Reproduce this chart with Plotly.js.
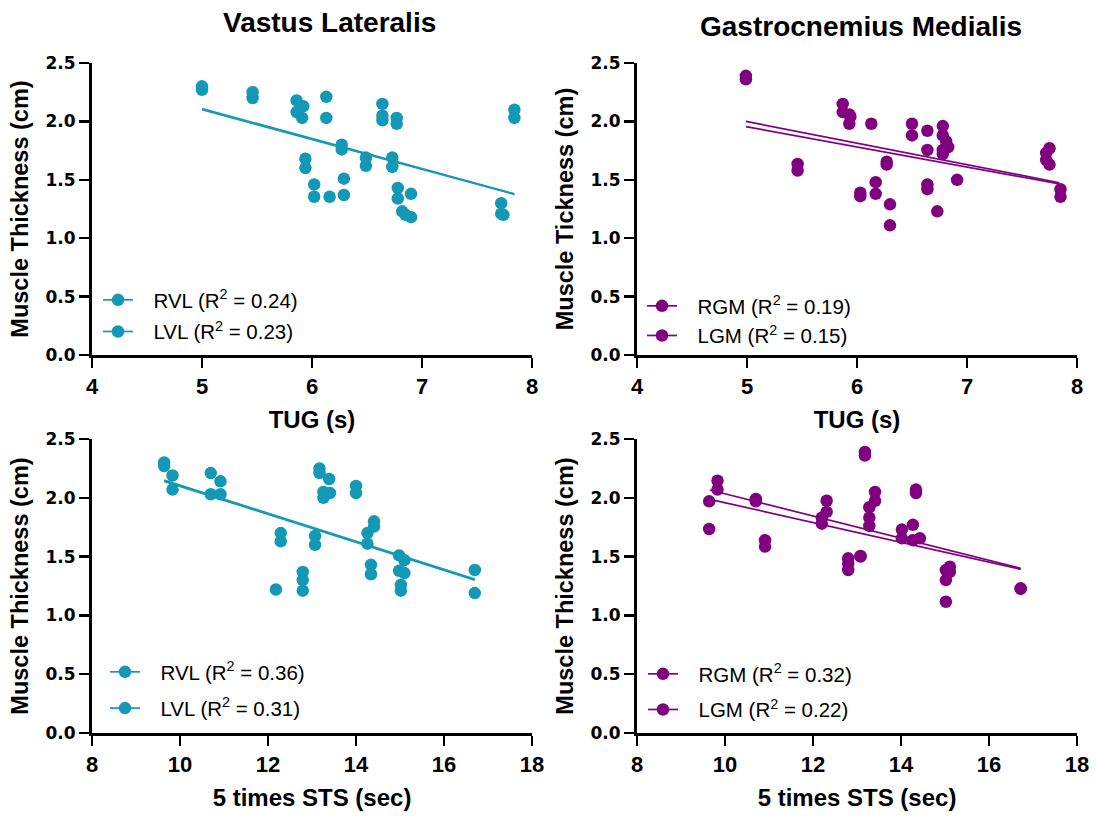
<!DOCTYPE html>
<html>
<head>
<meta charset="utf-8">
<script src="https://cdn.plot.ly/plotly-3.0.1.min.js"></script>
<style>html,body{margin:0;padding:0;background:#fff;}#chart{width:1096px;height:816px;}</style>
</head>
<body>
<div id="chart"></div>
<script>
// ---------- DATA ----------
// Panel A: Vastus Lateralis vs TUG (s)
const rvlTugX = [5.00,5.46,5.86,5.92,6.13,6.64,6.77,7.84,6.27,5.94,6.49,6.73,6.02,6.29,6.78,6.90,6.82,7.72,6.64,6.16];
const rvlTugY = [2.30,2.25,2.18,2.13,2.21,2.15,2.03,2.10,1.80,1.68,1.69,1.69,1.46,1.51,1.43,1.38,1.23,1.30,2.01,1.355];
const lvlTugX = [5.00,5.46,5.86,5.91,6.13,6.64,6.77,7.84,6.27,5.94,6.49,6.73,6.02,6.29,6.78,6.90,6.85,7.72,7.74];
const lvlTugY = [2.27,2.20,2.08,2.03,2.03,2.05,1.98,2.03,1.76,1.60,1.62,1.61,1.355,1.37,1.34,1.18,1.20,1.21,1.20];
const rvlTugFitX = [5.00,7.84], rvlTugFitY = [2.11,1.38];
const lvlTugFitX = [5.00,7.84], lvlTugFitY = [2.10,1.375];

// Panel B: Gastrocnemius Medialis vs TUG (s)
const rgmTugX = [4.99,5.46,5.87,5.93,6.13,6.27,6.03,6.17,6.30,6.50,6.64,6.64,6.78,6.81,6.78,6.73,7.75,7.72,7.85];
const rgmTugY = [2.39,1.635,2.15,2.06,1.98,1.655,1.39,1.48,1.29,1.98,1.92,1.46,1.96,1.83,1.755,1.23,1.77,1.67,1.42];
const lgmTugX = [4.99,5.46,5.87,5.94,5.93,6.27,6.03,6.17,6.30,6.50,6.64,6.64,6.78,6.83,6.78,6.91,7.72,7.75,7.85];
const lgmTugY = [2.36,1.58,2.08,2.04,1.98,1.63,1.36,1.38,1.11,1.88,1.755,1.42,1.88,1.78,1.72,1.50,1.73,1.63,1.355];
const rgmTugFitX = [4.99,7.84], rgmTugFitY = [2.00,1.475];
const lgmTugFitX = [4.99,7.84], lgmTugFitY = [1.955,1.465];

// Panel C: Vastus Lateralis vs 5 times STS (sec)
const rvlStsX = [9.64,9.83,10.70,10.92,13.17,13.39,13.26,14.00,12.29,13.07,14.41,14.26,14.34,14.98,14.98,15.02,12.18,12.79,16.70];
const rvlStsY = [2.30,2.19,2.21,2.14,2.25,2.16,2.05,2.10,1.70,1.675,1.80,1.70,1.43,1.51,1.38,1.26,1.22,1.37,1.386];
const lvlStsX = [9.64,9.83,10.70,10.92,13.17,13.41,13.26,14.00,12.29,13.07,14.41,14.26,14.34,15.10,15.10,15.02,12.79,12.79,16.70];
const lvlStsY = [2.27,2.07,2.03,2.03,2.21,2.04,2.00,2.04,1.63,1.60,1.755,1.61,1.35,1.47,1.36,1.21,1.30,1.21,1.19];
const rvlStsFitX = [9.64,16.70], rvlStsFitY = [2.15,1.31];
const lvlStsFitX = [9.64,16.70], lvlStsFitY = [2.14,1.30];

// Panel D: Gastrocnemius Medialis vs 5 times STS (sec)
const rgmStsX = [9.83,9.64,10.70,10.91,12.31,12.20,13.18,13.41,13.28,13.28,12.80,13.08,14.34,14.27,14.02,14.27,15.02,15.11,16.72];
const rgmStsY = [2.145,1.97,1.99,1.64,1.975,1.83,2.39,2.05,1.92,1.76,1.485,1.505,2.07,1.77,1.73,1.64,1.386,1.414,1.23];
const lgmStsX = [9.83,9.64,10.70,10.91,12.31,12.20,13.18,13.41,13.28,12.80,12.80,13.08,14.34,14.02,14.43,15.02,15.11,15.02,16.72];
const lgmStsY = [2.07,1.735,1.97,1.585,1.88,1.78,2.36,1.975,1.83,1.386,1.44,1.50,2.04,1.655,1.655,1.30,1.37,1.116,1.225];
const rgmStsFitX = [9.66,16.72], rgmStsFitY = [2.066,1.40];
const lgmStsFitX = [9.66,16.72], lgmStsFitY = [1.987,1.392];

// Labels
const panelTitles = ['Vastus Lateralis', 'Gastrocnemius Medialis'];
const xTitles = ['TUG (s)', 'TUG (s)', '5 times STS (sec)', '5 times STS (sec)'];
const yTitles = ['Muscle Thickness (cm)', 'Muscle Tickness (cm)', 'Muscle Thickness (cm)', 'Muscle Thickness (cm)'];
const legendNames = [
  ['RVL (R<sup>2</sup> = 0.24)', 'LVL (R<sup>2</sup> = 0.23)'],
  ['RGM (R<sup>2</sup> = 0.19)', 'LGM (R<sup>2</sup> = 0.15)'],
  ['RVL (R<sup>2</sup> = 0.36)', 'LVL (R<sup>2</sup> = 0.31)'],
  ['RGM (R<sup>2</sup> = 0.32)', 'LGM (R<sup>2</sup> = 0.22)']
];
const tugTicks = [4,5,6,7,8];
const stsTicks = [8,10,12,14,16,18];
const yTicks = [0,0.5,1.0,1.5,2.0,2.5];
const yTickText = ['0.0','0.5','1.0','1.5','2.0','2.5'];

// ---------- STYLE ----------
const FONT = 'Liberation Sans, Arial, Helvetica, sans-serif';
const TEAL = '#1399B6';
const PURPLE = '#800080';
const MS = 12.5;
const LEGPAD = '\u00A0\u00A0\u2009';

const panels = [
  {xa:'x',  ya:'y',  leg:'legend',  color:TEAL,
   series:[[rvlTugX,rvlTugY,rvlTugFitX,rvlTugFitY],[lvlTugX,lvlTugY,lvlTugFitX,lvlTugFitY]]},
  {xa:'x2', ya:'y2', leg:'legend2', color:PURPLE,
   series:[[rgmTugX,rgmTugY,rgmTugFitX,rgmTugFitY],[lgmTugX,lgmTugY,lgmTugFitX,lgmTugFitY]]},
  {xa:'x3', ya:'y3', leg:'legend3', color:TEAL,
   series:[[rvlStsX,rvlStsY,rvlStsFitX,rvlStsFitY],[lvlStsX,lvlStsY,lvlStsFitX,lvlStsFitY]]},
  {xa:'x4', ya:'y4', leg:'legend4', color:PURPLE,
   series:[[rgmStsX,rgmStsY,rgmStsFitX,rgmStsFitY],[lgmStsX,lgmStsY,lgmStsFitX,lgmStsFitY]]}
];

const traces = [];
panels.forEach((p, pi) => {
  p.series.forEach((s, si) => {
    traces.push({type:'scatter', mode:'lines', x:s[2], y:s[3], xaxis:p.xa, yaxis:p.ya,
      line:{color:p.color, width:1.7}, showlegend:false, hoverinfo:'skip'});
  });
  p.series.forEach((s, si) => {
    traces.push({type:'scatter', mode:'markers', x:s[0], y:s[1], xaxis:p.xa, yaxis:p.ya,
      marker:{color:p.color, size:MS, line:{width:0}}, showlegend:false});
  });
  p.series.forEach((s, si) => {
    // legend entry (line + marker symbol)
    traces.push({type:'scatter', mode:'lines+markers', x:[null], y:[null], xaxis:p.xa, yaxis:p.ya,
      name:LEGPAD + legendNames[pi][si], legend:p.leg, legendgroup:'g'+pi+'_'+si,
      line:{color:p.color, width:1.7}, marker:{color:p.color, size:MS}, showlegend:true});
  });
});

// geometry
const W = 1096, H = 816;
const mL = 92, mR = 19, mT = 63, mB = 83;
const pw = W - mL - mR, ph = H - mT - mB;
const px = v => (v - mL) / pw;
const py = v => (H - mB - v) / ph;
const xDomL = [0, px(532)], xDomR = [px(637), 1];
const yDomT = [py(355), 1], yDomB = [0, py(439)];

function xAxis(domain, anchor, range, tickvals, title) {
  return {domain, anchor, range, tickvals, ticktext: tickvals.map(String),
    showline:true, linewidth:3, linecolor:'#000', mirror:false,
    ticks:'outside', ticklen:10, tickwidth:2.5, tickcolor:'#000',
    showgrid:false, zeroline:false,
    tickfont:{family:FONT, size:22, weight:'bold', color:'#000'},
    title:{text:title, font:{family:FONT, size:24, weight:'bold', color:'#000'}, standoff:13}};
}
function yAxis(domain, anchor, title) {
  return {domain, anchor, range:[0,2.5], tickvals:yTicks, ticktext:yTickText,
    showline:true, linewidth:3, linecolor:'#000',
    ticks:'outside', ticklen:10, tickwidth:2.5, tickcolor:'#000',
    showgrid:false, zeroline:false,
    tickfont:{family:'DejaVu Sans, sans-serif', size:17, weight:'bold', color:'#000'},
    title:{text:title, font:{family:FONT, size:23.5, weight:'bold', color:'#000'}, standoff:11}};
}
function legend(xpx, ytop, gap) {
  return {x:px(xpx), xanchor:'left', y:py(ytop), yanchor:'top', bgcolor:'rgba(0,0,0,0)',
    borderwidth:0, itemwidth:30, tracegroupgap:gap,
    font:{family:FONT, size:20.5, color:'#000'}};
}

const layout = {
  width:W, height:H, margin:{l:mL, r:mR, t:mT, b:mB},
  paper_bgcolor:'#fff', plot_bgcolor:'#fff',
  font:{family:FONT, color:'#000'},
  xaxis: xAxis(xDomL, 'y', [4,8], tugTicks, xTitles[0]),
  yaxis: yAxis(yDomT, 'x', yTitles[0]),
  xaxis2: xAxis(xDomR, 'y2', [4,8], tugTicks, xTitles[1]),
  yaxis2: yAxis(yDomT, 'x2', yTitles[1]),
  xaxis3: xAxis(xDomL, 'y3', [8,18], stsTicks, xTitles[2]),
  yaxis3: yAxis(yDomB, 'x3', yTitles[2]),
  xaxis4: xAxis(xDomR, 'y4', [8,18], stsTicks, xTitles[3]),
  yaxis4: yAxis(yDomB, 'x4', yTitles[3]),
  legend: legend(98, 280, 2),
  legend2: legend(642, 286, 0),
  legend3: legend(105, 652, 6.6),
  legend4: legend(643, 654, 6),
  annotations: [
    {text:panelTitles[0], xref:'paper', yref:'paper', x:px(329.5), y:py(22.2), xanchor:'center', yanchor:'middle',
     showarrow:false, font:{family:FONT, size:28, weight:'bold', color:'#000'}},
    {text:panelTitles[1], xref:'paper', yref:'paper', x:px(860.5), y:py(26.7), xanchor:'center', yanchor:'middle',
     showarrow:false, font:{family:FONT, size:28, weight:'bold', color:'#000'}}
  ],
  showlegend:true
};

Plotly.newPlot('chart', traces, layout, {staticPlot:true, displayModeBar:false});
</script>
</body>
</html>
